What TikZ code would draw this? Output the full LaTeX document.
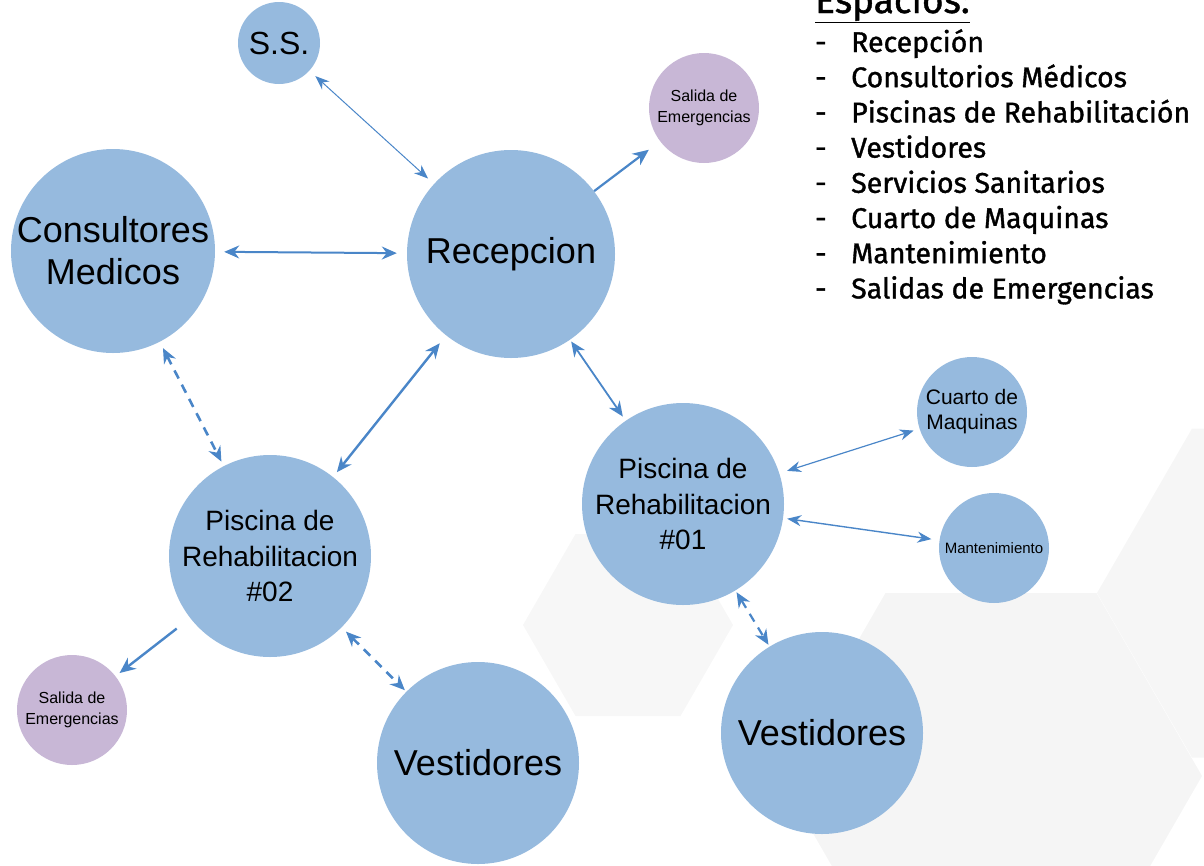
\documentclass[tikz,border=0pt]{standalone}
\usepackage{fontspec}
\setmainfont{Liberation Sans}
\newfontfamily\legendfont{Fira Sans}[FakeBold=1.2]
\usetikzlibrary{arrows.meta}
\definecolor{bubbleblue}{RGB}{150,186,222}
\definecolor{bubblelilac}{RGB}{200,183,214}
\definecolor{linkblue}{RGB}{74,134,200}
\definecolor{hexgray}{RGB}{245,245,245}
\tikzset{
  espacio/.style={
    circle,
    fill=bubbleblue,
    inner sep=0pt,
    align=center,
    text=black
  },
  salida/.style={
    espacio,
    fill=bubblelilac,
    minimum size=110pt,
    font=\fontsize{16}{21}\selectfont
  },
  conexion/.style={
    linkblue,
    line width=2pt,
    {Stealth[length=15pt,width=13pt]}-{Stealth[length=15pt,width=13pt]}
  },
  fina/.style={
    linkblue,
    line width=1pt,
    {Stealth[length=14pt,width=11pt]}-{Stealth[length=14pt,width=11pt]}
  },
  hacia/.style={
    linkblue,
    line width=2.2pt,
    -{Stealth[length=16pt,width=14pt]}
  },
  discontinua/.style={
    conexion,
    line width=2.6pt,
    dash pattern=on 9pt off 7pt
  },
  item/.style={
    anchor=base west,
    inner sep=0pt,
    font=\legendfont\fontsize{28.5}{34}\selectfont
  }
}
\begin{document}
\begin{tikzpicture}[x=1pt,y=-1pt]
\useasboundingbox (0,0) rectangle (1204,865);
\clip (0,0) rectangle (1204,865);
% fondo
\fill[hexgray!80] (523,625) -- (575.5,534) -- (680.5,534) -- (733,625) -- (680.5,716) -- (575.5,716) -- cycle;
\fill[hexgray] (780,776) -- (885.5,593) -- (1096.5,593) -- (1202,776) -- (1096.5,959) -- (885.5,959) -- cycle;
\fill[hexgray!90] (1097,593) -- (1192,428.5) -- (1382,428.5) -- (1477,593) -- (1382,757.5) -- (1192,757.5) -- cycle;

% espacios
\node[espacio,minimum size=82pt,font=\fontsize{32}{36}\selectfont] (ss) at (279,43) {S.S.};
\node[salida] (salida1) at (704,108) {Salida de\\Emergencias};
\node[espacio,minimum size=204pt,font=\fontsize{36}{42}\selectfont] (consultores) at (113,251) {Consultores\\Medicos};
\node[espacio,minimum size=208pt,font=\fontsize{36}{42}\selectfont] (recepcion) at (511,254) {Recepcion};
\node[espacio,minimum size=202pt,font=\fontsize{28}{35.5}\selectfont] (piscina2) at (270,556) {Piscina de\\Rehabilitacion\\\#02};
\node[espacio,minimum size=202pt,font=\fontsize{28}{35.5}\selectfont] (piscina1) at (683,504) {Piscina de\\Rehabilitacion\\\#01};
\node[espacio,minimum size=110pt,font=\fontsize{21}{25}\selectfont] (cuarto) at (972,412) {Cuarto de\\Maquinas};
\node[espacio,minimum size=110pt,font=\fontsize{15}{18}\selectfont] (mant) at (994,548) {Mantenimiento};
\node[espacio,minimum size=202pt,font=\fontsize{36}{42}\selectfont] (vest1) at (822,733) {Vestidores};
\node[espacio,minimum size=202pt,font=\fontsize{36}{42}\selectfont] (vest2) at (478,763) {Vestidores};
\node[salida] (salida2) at (72,710) {Salida de\\Emergencias};

% conexiones
\draw[fina,shorten <=8pt,shorten >=8pt] (ss) -- (recepcion);
\draw[conexion,shorten <=9pt,shorten >=10pt] (consultores) -- (recepcion);
\draw[hacia,shorten >=14pt] (recepcion) -- (salida1);
\draw[conexion,line width=1.8pt,shorten <=2pt,shorten >=5pt] (recepcion) -- (piscina1);
\draw[conexion,line width=2.4pt,shorten <=10pt,shorten >=6pt] (recepcion) -- (piscina2);
\draw[discontinua,shorten <=7pt,shorten >=5pt] (consultores) -- (piscina2);
\draw[hacia,line width=2.4pt,shorten <=17pt,shorten >=5pt] (piscina2) -- (salida2);
\draw[discontinua,shorten <=6pt,shorten >=2pt] (piscina2) -- (vest2);
\draw[fina,line width=1.2pt,shorten <=8pt,shorten >=6pt] (piscina1) -- (cuarto);
\draw[fina,line width=1.4pt,shorten <=4pt,shorten >=8pt] (piscina1) -- (mant);
\draw[discontinua,line width=2.2pt,shorten <=2pt,shorten >=2pt] (piscina1) -- (vest1);

% lista de espacios
\node[item,font=\legendfont\fontsize{37}{40}\selectfont] (titulo) at (815,13) {\underline{Espacios:}};
\foreach \texto [count=\i from 0] in {Recepción,Consultorios Médicos,Piscinas de Rehabilitación,Vestidores,Servicios Sanitarios,Cuarto de Maquinas,Mantenimiento,Salidas de Emergencias} {
  \node[item] (guion\i) at (815,52+35.2*\i) {-};
  \node[item] (item\i) at (851,52+35.2*\i) {\texto};
}
\end{tikzpicture}
\end{document}
